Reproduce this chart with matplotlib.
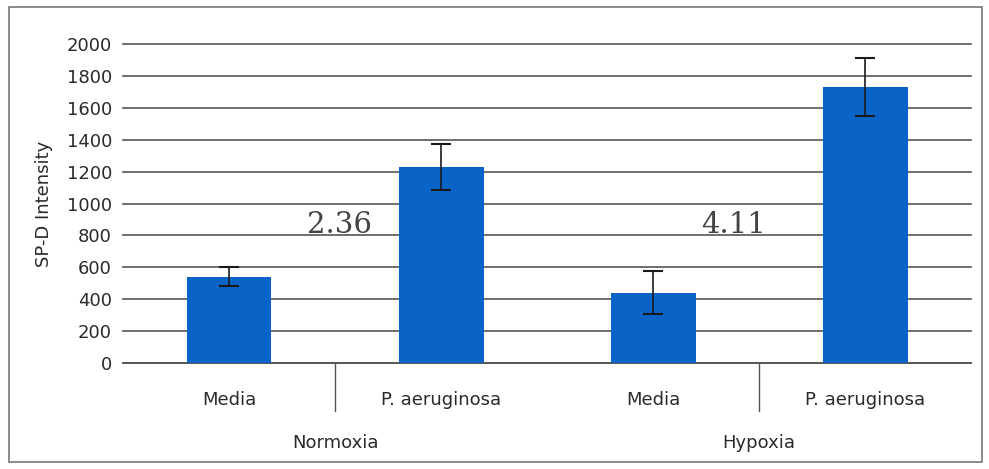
import matplotlib
matplotlib.use("Agg")
import matplotlib.pyplot as plt
from matplotlib.patches import Rectangle

# data
categories = ["Media", "P. aeruginosa", "Media", "P. aeruginosa"]
groups = ["Normoxia", "Hypoxia"]
intensity = [540, 1230, 440, 1730]
errors = [60, 145, 135, 180]
ratios = ["2.36", "4.11"]
ratio_x = [0.52, 2.38]
yticks = list(range(0, 2001, 200))

fig = plt.figure(figsize=(9.89, 4.69), dpi=100)
ax = fig.add_axes([0.1244, 0.226, 0.8576, 0.68])

xs = list(range(len(categories)))
ax.bar(xs, intensity, width=0.4, color="#0a64c8", zorder=3)
ax.errorbar(xs, intensity, yerr=errors, fmt="none", ecolor="#1a1a1a",
            elinewidth=1.2, capsize=7, capthick=1.5, zorder=4)

ax.set_xlim(-0.5, len(categories) - 0.5)
ax.set_ylim(0, 2000)
ax.set_yticks(yticks)
ax.yaxis.grid(True, color="#555555", linewidth=1.2, zorder=0)
for line in ax.get_ygridlines():
    line.set_clip_on(False)
ax.set_xticks(xs)
ax.set_xticklabels(categories)
ax.tick_params(axis="both", length=0, labelsize=13, colors="#2a2a2a")
ax.tick_params(axis="x", pad=20)
ax.tick_params(axis="y", pad=8)
for side in ["top", "right", "left"]:
    ax.spines[side].set_visible(False)
ax.spines["bottom"].set_color("#555555")
ax.spines["bottom"].set_linewidth(1.2)
ax.set_ylabel("SP-D Intensity", fontsize=13, color="#2a2a2a", labelpad=10)

# group separators, group labels and fold-change notes
trans = ax.get_xaxis_transform()
for i, name in enumerate(groups):
    gx = 2 * i + 0.5
    ax.plot([gx, gx], [0, -0.15], transform=trans, color="#555555",
            linewidth=1.0, clip_on=False)
    ax.text(gx, -0.25, name, transform=trans, ha="center", va="center",
            fontsize=13, color="#2a2a2a")
    ax.text(ratio_x[i], 865, ratios[i], ha="center", va="center", fontsize=21,
            family="DejaVu Serif", color="#444444")

# outer frame
fig.patches.append(Rectangle((0.009, 0.015), 0.984, 0.97, transform=fig.transFigure,
                             fill=False, edgecolor="#777777", linewidth=1.2))

fig.savefig("out.png", dpi=100)
